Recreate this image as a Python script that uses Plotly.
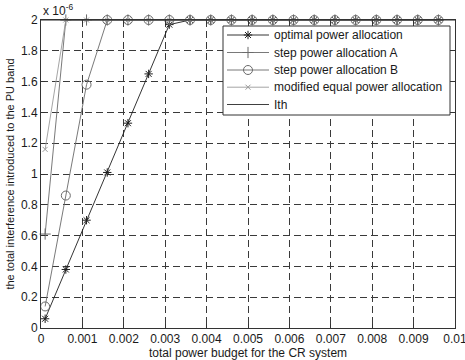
import plotly.graph_objects as go

power_budget = [0.0001, 0.0006, 0.0011, 0.0016, 0.0021, 0.0026, 0.0031, 0.0036,
                0.0041, 0.0046, 0.0051, 0.0056, 0.0061, 0.0066, 0.0071, 0.0076,
                0.0081, 0.0086, 0.0091, 0.0096]
# interference values in units of 1e-6
optimal = [0.06, 0.38, 0.70, 1.01, 1.33, 1.65, 1.97, 2.0, 2.0, 2.0, 2.0, 2.0,
           2.0, 2.0, 2.0, 2.0, 2.0, 2.0, 2.0, 2.0]
step_a = [0.61, 2.0, 2.0, 2.0, 2.0, 2.0, 2.0, 2.0, 2.0, 2.0, 2.0, 2.0,
          2.0, 2.0, 2.0, 2.0, 2.0, 2.0, 2.0, 2.0]
step_b = [0.14, 0.86, 1.58, 2.0, 2.0, 2.0, 2.0, 2.0, 2.0, 2.0, 2.0, 2.0,
          2.0, 2.0, 2.0, 2.0, 2.0, 2.0, 2.0, 2.0]
modified_equal = [1.16, 2.0, 2.0, 2.0, 2.0, 2.0, 2.0, 2.0, 2.0, 2.0, 2.0, 2.0,
                  2.0, 2.0, 2.0, 2.0, 2.0, 2.0, 2.0, 2.0]
ith_x = [0.0, 0.01]
ith_y = [2.0, 2.0]

series_names = ["optimal power allocation", "step power allocation A",
                "step power allocation B", "modified equal power allocation", "Ith"]

x_ticks = [0, 0.001, 0.002, 0.003, 0.004, 0.005, 0.006, 0.007, 0.008, 0.009, 0.01]
x_tick_text = ["0", "0.001", "0.002", "0.003", "0.004", "0.005", "0.006", "0.007",
               "0.008", "0.009", "0.01"]
y_ticks = [0, 0.2, 0.4, 0.6, 0.8, 1.0, 1.2, 1.4, 1.6, 1.8, 2.0]
y_tick_text = ["0", "0.2", "0.4", "0.6", "0.8", "1", "1.2", "1.4", "1.6", "1.8", "2"]

X_RANGE = [0, 0.01]
Y_RANGE = [0, 2]

FONT = "Liberation Sans, Arial"
TXT = "#1a1a1a"
styles = [
    dict(color="#1e1e1e", symbol="asterisk-open", size=7),
    dict(color="#6a6a6a", symbol="cross-thin-open", size=8),
    dict(color="#6a6a6a", symbol="circle-open", size=9),
    dict(color="#9a9a9a", symbol="x-thin-open", size=5),
    dict(color="#2a2a2a", symbol=None, size=0),
]

# plot-area geometry (pixels) used to place the hand-drawn legend box
W, H = 465, 360
ML, MR, MT, MB = 41, 10, 20, 32
PX0, PX1, PY0, PY1 = ML, W - MR, MT, H - MB


def px_to_x(px):
    return X_RANGE[0] + (px - PX0) / (PX1 - PX0) * (X_RANGE[1] - X_RANGE[0])


def py_to_y(py):
    return Y_RANGE[0] + (PY1 - py) / (PY1 - PY0) * (Y_RANGE[1] - Y_RANGE[0])


fig = go.Figure()
data_y = [optimal, step_a, step_b, modified_equal]
for i, ys in enumerate(data_y):
    st = styles[i]
    fig.add_trace(go.Scatter(x=power_budget, y=ys, name=series_names[i],
                             mode="lines+markers", cliponaxis=False,
                             line=dict(color=st["color"], width=0.9),
                             marker=dict(symbol=st["symbol"], size=st["size"],
                                         color=st["color"],
                                         line=dict(color=st["color"], width=1))))
fig.add_trace(go.Scatter(x=ith_x, y=ith_y, name=series_names[4], mode="lines",
                         line=dict(color=styles[4]["color"], width=1)))

axis_common = dict(showline=True, linecolor="#333333", linewidth=1, mirror="ticks",
                   ticks="inside", ticklen=4, tickcolor="#333333",
                   showgrid=True, gridcolor="#3a3a3a", gridwidth=1,
                   griddash="7px,4px", zeroline=False, automargin=False,
                   ticklabeloverflow="allow",
                   tickfont=dict(family=FONT, size=12, color=TXT))

fig.update_xaxes(range=X_RANGE, tickvals=x_ticks, ticktext=x_tick_text,
                 title=dict(text="total power budget for the CR system",
                            font=dict(family=FONT, size=12, color=TXT), standoff=3),
                 **axis_common)
fig.update_yaxes(range=Y_RANGE, tickvals=y_ticks, ticktext=y_tick_text,
                 title=dict(text="the total interference introduced to the PU band",
                            font=dict(family=FONT, size=11, color=TXT), standoff=4),
                 **axis_common)

fig.add_annotation(text="x 10<sup>-6</sup>", xref="paper", yref="paper", x=0, y=1,
                   xanchor="left", yanchor="bottom", showarrow=False, yshift=0,
                   font=dict(family=FONT, size=12, color=TXT))

# ---- hand-drawn legend ----
L_LEFT, L_RIGHT, L_TOP, L_BOTTOM = 223, 450, 26, 115
row_py = [35, 52.5, 70, 87.2, 104.5]
seg_px0, seg_px1, mark_px, text_px = 227, 269, 248, 272

fig.add_shape(type="rect", xref="x", yref="y", x0=px_to_x(L_LEFT), x1=px_to_x(L_RIGHT),
              y0=py_to_y(L_TOP), y1=py_to_y(L_BOTTOM), layer="between",
              fillcolor="white", line=dict(color="#333333", width=1))
for i, name in enumerate(series_names):
    st = styles[i]
    yy = py_to_y(row_py[i])
    fig.add_shape(type="line", xref="x", yref="y", x0=px_to_x(seg_px0),
                  x1=px_to_x(seg_px1), y0=yy, y1=yy, layer="between",
                  line=dict(color=st["color"], width=0.9))
    fig.add_annotation(text=name, xref="x", yref="y", x=px_to_x(text_px), y=yy,
                       xanchor="left", yanchor="middle", showarrow=False,
                       font=dict(family=FONT, size=12, color=TXT))
    if st["symbol"]:
        fig.add_trace(go.Scatter(x=[px_to_x(mark_px)], y=[yy], mode="markers",
                                 showlegend=False, hoverinfo="skip", cliponaxis=False,
                                 marker=dict(symbol=st["symbol"], size=st["size"],
                                             color=st["color"],
                                             line=dict(color=st["color"], width=1))))

fig.update_layout(
    width=W, height=H,
    margin=dict(l=ML, r=MR, t=MT, b=MB),
    plot_bgcolor="white", paper_bgcolor="white",
    showlegend=False,
)

fig.write_html("out.html",
               config={"displayModeBar": False},
               post_script="document.body.style.margin='0';"
                           "document.body.style.overflow='hidden';")
